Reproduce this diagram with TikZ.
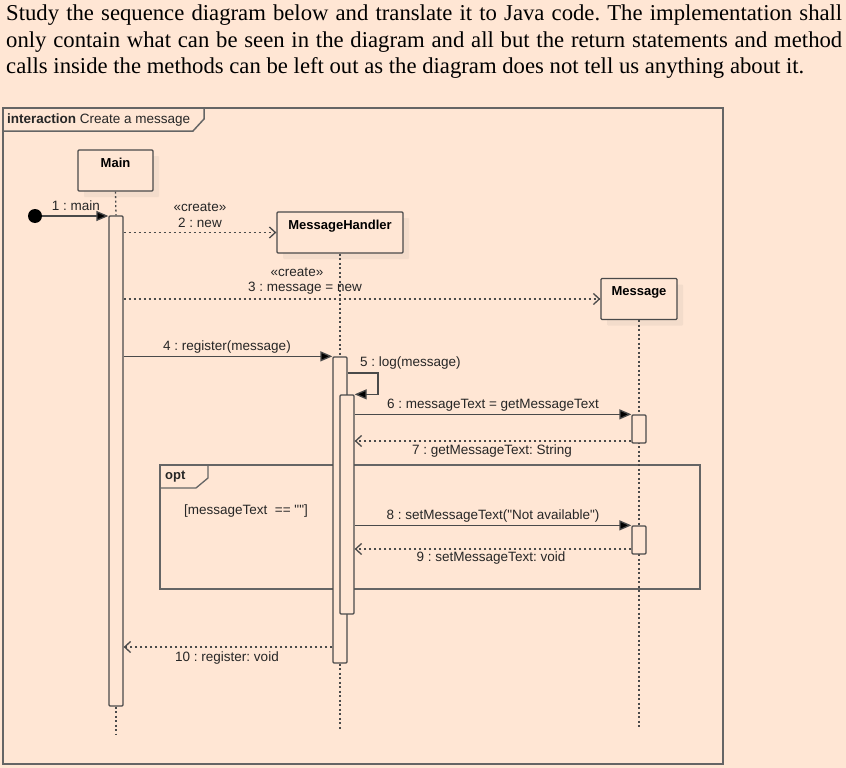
\documentclass[tikz,border=0pt]{standalone}
\usepackage{fontspec}
\setmainfont{Liberation Serif}
\newfontfamily\diagfont{Liberation Sans}
\usetikzlibrary{arrows.meta,shadows}
\definecolor{peach}{HTML}{FFE6D4}
\definecolor{shade}{HTML}{F3DCCB}
\definecolor{ink}{HTML}{4A4A4A}
\frenchspacing

\begin{document}
\begin{tikzpicture}[x=1pt,y=-1pt,
  head/.style={draw=ink,line width=1.3pt,fill=peach,rounded corners=1pt,minimum width=#1,minimum height=41pt,inner sep=0pt,text height=9pt,text depth=16pt,font=\diagfont\fontsize{13}{15}\selectfont\bfseries,drop shadow={shadow xshift=6pt,shadow yshift=-6pt,fill=shade,opacity=1}},
  act/.style={draw=ink,line width=1.3pt,fill=peach,rounded corners=1pt,minimum width=14pt,minimum height=#1,inner sep=0pt},
  life/.style={draw=ink,line width=1.3pt,dash pattern=on 2pt off 2.5pt},
  call/.style={draw=ink,line width=1.3pt,-{Triangle[length=12pt,width=10pt,fill=black]}},
  reply/.style={draw=ink,line width=1.3pt,dash pattern=on 2.5pt off 2.5pt,-{Straight Barb[length=6pt,width=11pt]}},
  frame/.style={draw=ink!85,line width=1.5pt},
  lbl/.style={font=\diagfont\fontsize{13.5}{15}\selectfont,text=black!85,inner sep=0pt},
  txt/.style={anchor=base west,inner sep=0pt,font=\fontsize{22.7}{26}\selectfont}]
  \fill[peach] (0,0) rectangle (846,768);
  \useasboundingbox (0,0) rectangle (846,768);
  \node[txt] (txtA) at (6,21) {\makebox[836pt][s]{Study the sequence diagram below and translate it to Java code. The implementation shall}};
  \node[txt] (txtB) at (6,48) {\makebox[836pt][s]{only contain what can be seen in the diagram and all but the return statements and method}};
  \node[txt] (txtC) at (6,74) {calls inside the methods can be left out as the diagram does not tell us anything about it.};

  \draw[frame] (3,108) rectangle (723,764);
  \draw[frame] (3,131) -- (193,131) -- (204,119) -- (204,108);
  \node[lbl,anchor=west] (title) at (7,120) {\textbf{interaction} Create a message};

  \draw[frame,line width=1.3pt] (160,465) rectangle (700,589);
  \draw[frame,line width=1.3pt] (160,488) -- (196,488) -- (208,478) -- (208,465);
  \node[lbl,anchor=west,font=\diagfont\fontsize{13}{15}\selectfont\bfseries] (optTag) at (165,477) {opt};
  \node[lbl] (guard) at (246,511) {[messageText\ \ == ""]};

  \node[head=75pt] (mainHead) at (115.5,170.5) {Main};
  \node[head=126pt] (mhHead) at (340,232.5) {MessageHandler};
  \node[head=76pt] (msgHead) at (639,299) {Message};

  \coordinate (mainEnd) at (116,735);
  \coordinate (mhEnd) at (340,730);
  \coordinate (msgEnd) at (639,727);
  \node[act=490pt] (actMain) at (116,461) {};
  \node[act=306pt] (actMH) at (340,510) {};
  \node[act=219pt] (actLog) at (347,504.5) {};
  \draw[life] (msgHead.south) -- (msgEnd);
  \node[act=28pt] (actMsgA) at (639,429) {};
  \node[act=28pt] (actMsgB) at (639,540) {};
  \draw[life] (mainHead.south) -- (actMain.north);
  \draw[life] (actMain.south) -- (mainEnd);
  \draw[life] (mhHead.south) -- (actMH.north);
  \draw[life] (actMH.south) -- (mhEnd);

  % found message
  \node[circle,fill=black,inner sep=0pt,minimum size=14pt] (start) at (35,216) {};
  \draw[call] (start) -- (start -| actMain.west);
  \node[lbl] (m1) at (76,206) {1 : main};

  \draw[reply] (mhHead.west -| actMain.east) -- (mhHead.west);
  \node[lbl] (m2s) at (200,207) {«create»};
  \node[lbl] (m2) at (200,223) {2 : new};

  \draw[reply] (msgHead.west -| actMain.east) -- (msgHead.west);
  \node[lbl] (m3s) at (297,272) {«create»};
  \node[lbl] (m3) at (305,288) {3 : message = new};

  \draw[call] (actMH.north west -| actMain.east) -- (actMH.north west);
  \node[lbl] (m4) at (227,347) {4 : register(message)};

  \coordinate (logOut) at (378,373);
  \draw[call] (logOut -| actMH.east) -- (logOut) |- (actLog.north east);
  \node[lbl,anchor=west] (m5) at (360,363) {5 : log(message)};

  \draw[call] (actMsgA.north west -| actLog.east) -- (actMsgA.north west);
  \node[lbl] (m6) at (493,405) {6 : messageText = getMessageText};

  \coordinate (ret7) at (639,441);
  \draw[reply] (ret7 -| actMsgA.west) -- (ret7 -| actLog.east);
  \node[lbl] (m7) at (492,451) {7 : getMessageText: String};

  \draw[call] (actMsgB.north west -| actLog.east) -- (actMsgB.north west);
  \node[lbl] (m8) at (493,516) {8 : setMessageText("Not available")};

  \coordinate (ret9) at (639,549);
  \draw[reply] (ret9 -| actMsgB.west) -- (ret9 -| actLog.east);
  \node[lbl] (m9) at (491,558) {9 : setMessageText: void};

  \coordinate (ret10) at (340,647);
  \draw[reply] (ret10 -| actMH.west) -- (ret10 -| actMain.east);
  \node[lbl] (m10) at (227,658) {10 : register: void};
\end{tikzpicture}
\end{document}
